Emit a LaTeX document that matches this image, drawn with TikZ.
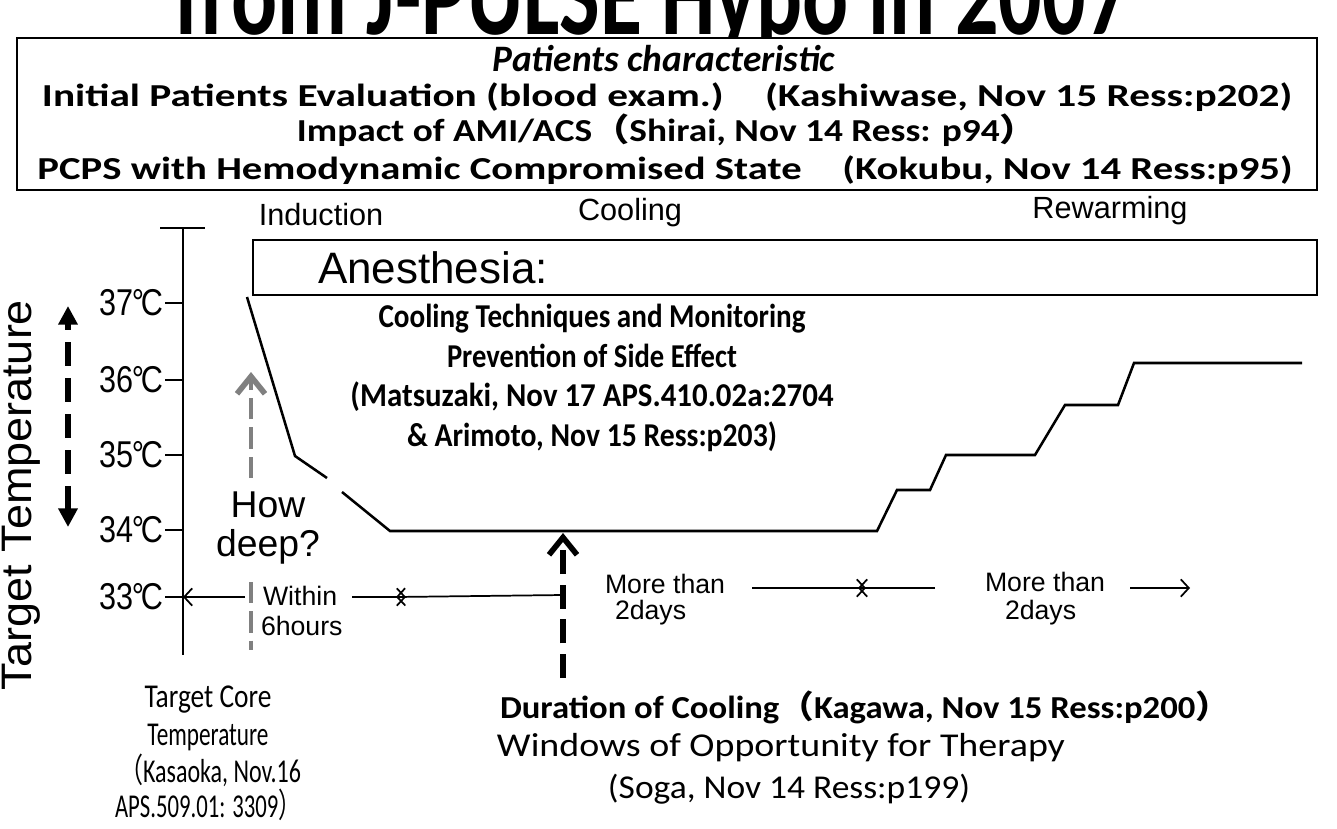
\documentclass[tikz,border=0pt]{standalone}
\usepackage{fontspec}
\usepackage{graphicx}
\setmainfont{Liberation Sans}
\newfontfamily\calfont{Carlito}
\newfontfamily\jpfont{Noto Sans CJK JP}
\usetikzlibrary{arrows.meta}
\newlength\px
\setlength\px{0.75pt}
\newcommand\fw[2]{\resizebox{#1\px}{\height}{#2}}
\newcommand\lp{\smash{\jpfont （}}
\newcommand\rp{\smash{\jpfont ）}}
\tikzset{
  txt/.style={inner sep=0pt, outer sep=0pt},
  frame/.style={line width=1.6pt},
  curveline/.style={line width=1.9pt, line join=miter},
  tickline/.style={line width=1.5pt},
  chev/.tip={Straight Barb[length=13pt,width=21pt,line width=4.2pt]},
  barb/.tip={Straight Barb[length=6pt,width=13pt,line width=1.3pt]},
  thinarrow/.style={line width=1.3pt,-barb},
  bigdash/.style={line width=4pt, dash pattern=on 18pt off 8pt},
  graydash/.style={line width=3.6pt, dash pattern=on 16pt off 6pt, draw=black!50},
  toptext/.style={txt, font=\calfont\bfseries\fontsize{24}{24}\selectfont},
  phase/.style={txt, font=\fontsize{23}{23}\selectfont},
  ticklab/.style={txt, anchor=east},
  small/.style={txt, anchor=west, font=\fontsize{20}{20}\selectfont},
  bottomtext/.style={txt, font=\calfont\bfseries\fontsize{24}{24}\selectfont},
  bottomreg/.style={txt, font=\calfont\fontsize{25}{25}\selectfont},
}
\begin{document}
\begin{tikzpicture}[x=0.75pt,y=-0.75pt]
\useasboundingbox (0,0) rectangle (1337,828);
\fill[white] (0,0) rectangle (1337,828);
% clipped title (only its lower part shows)
\begin{scope}
\clip (0,0) rectangle (1337,37);
\node[txt, anchor=base] (hdr) at (652,34) {\raisebox{0pt}[\height][0pt]{\fw{955}{\calfont\bfseries\fontsize{88}{88}\selectfont from J-PULSE Hypo in 2007}}};
\end{scope}
% top box
\draw[frame] (17,38) rectangle (1317,190);
\node[txt, font=\calfont\bfseries\itshape\fontsize{28}{28}\selectfont] (pc) at (664,59) {Patients characteristic};
\node[toptext] (l1) at (667,97) {\fw{1250}{Initial Patients Evaluation (blood exam.)\quad (Kashiwase, Nov 15 Ress:p202)}};
\node[toptext] (l2) at (667,133) {\fw{740}{Impact of AMI/ACS\lp Shirai, Nov 14 Ress: p94\rp}};
\node[toptext] (l3) at (665,170) {\fw{1255}{PCPS with Hemodynamic Compromised State\quad (Kokubu, Nov 14 Ress:p95)}};
% phase labels
\node[phase] (ind) at (321,215) {Induction};
\node[phase] (cool) at (630,213) {Cooling};
\node[phase] (rew) at (1110,211) {Rewarming};
% anesthesia box
\draw[frame] (253,240) rectangle (1317,295);
\node[txt, anchor=west, font=\fontsize{33}{33}\selectfont] (anes) at (318,268) {Anesthesia:};
% cooling block text
\node[txt, align=center, font=\calfont\bfseries\fontsize{25}{29.8}\selectfont] (ctext) at (592,378)
  {\fw{427}{Cooling Techniques and Monitoring}\\\fw{290}{Prevention of Side Effect}\\\fw{483}{(Matsuzaki, Nov 17 APS.410.02a:2704}\\\fw{370}{\& Arimoto, Nov 15 Ress:p203)}};
% axis
\coordinate (axtop) at (183,228);
\coordinate (axbot) at (183,655);
\coordinate (bar0) at (160,228);
\coordinate (bar1) at (205,228);
\draw[tickline] (axtop) -- (axbot);
\draw[tickline] (bar0) -- (bar1);
\foreach \t/\yy in {37/303,36/380,35/455,34/530,33/597}{
  \coordinate (tk\t) at (165,\yy);
  \coordinate (ax\t) at (183,\yy);
  \draw[tickline] (tk\t) -- (ax\t);
  \node[ticklab] (lab\t) at (163,\yy) {\fw{64}{\fontsize{28}{28}\selectfont \t\kern-1pt°\kern-3pt C}};
}
% target temperature
\node[txt, rotate=90] (tt) at (21,495) {\fw{390}{\fontsize{32}{32}\selectfont Target Temperature}};
\coordinate (tta) at (68,527);
\coordinate (ttb) at (68,306);
\draw[line width=5pt, dash pattern=on 18pt off 9pt, {Triangle[length=14pt,width=14pt]}-{Triangle[length=14pt,width=14pt]}] (tta) -- (ttb);
% cooling curve
\coordinate (c1) at (247,297);
\coordinate (c2) at (295,456);
\coordinate (c3) at (327,478);
\coordinate (c4) at (342,492);
\coordinate (c5) at (390,531);
\coordinate (c6) at (877,531);
\coordinate (c7) at (897,490);
\coordinate (c8) at (930,490);
\coordinate (c9) at (946,455);
\coordinate (c10) at (1035,455);
\coordinate (c11) at (1065,405);
\coordinate (c12) at (1118,405);
\coordinate (c13) at (1134,363);
\coordinate (c14) at (1302,363);
\draw[curveline] (c1) -- (c2) -- (c3);
\draw[curveline] (c4) -- (c5) -- (c6) -- (c7) -- (c8) -- (c9) -- (c10) -- (c11) -- (c12) -- (c13) -- (c14);
% how deep
\node[txt, font=\fontsize{28}{28}\selectfont] (how) at (268,505) {How};
\node[txt, font=\fontsize{28}{28}\selectfont] (deep) at (268,547) {deep?};
\coordinate (hd0) at (251,478);
\coordinate (hd1) at (251,372);
\draw[graydash, -chev] (hd0) -- (hd1);
\coordinate (hd2) at (251,582);
\coordinate (hd3) at (251,650);
\draw[graydash] (hd2) -- (hd3);
% 33 row
\node[small] (within) at (263,596) {Within};
\node[small] (sixh) at (261,626) {6hours};
\coordinate (r1) at (245,597);
\draw[thinarrow] (r1) -- (ax33);
\coordinate (r2) at (352,597);
\coordinate (x1) at (406,597);
\coordinate (x2) at (396,597);
\coordinate (r3) at (563,595);
\draw[thinarrow] (r2) -- (x1);
\draw[thinarrow] (r3) -- (x2);
% duration arrow
\coordinate (du0) at (563,678);
\coordinate (du1) at (563,533);
\draw[bigdash, -chev] (du0) -- (du1);
% more than
\node[small] (mt1) at (605,584) {More than};
\node[small] (dy1) at (615,613) {2days};
\node[small] (mt2) at (985,582) {More than};
\node[small] (dy2) at (1005,613) {2days};
\coordinate (m1) at (752,588);
\coordinate (m2) at (866,588);
\coordinate (m3) at (935,588);
\coordinate (m4) at (858,588);
\coordinate (m5) at (1130,588);
\coordinate (m6) at (1190,588);
\draw[thinarrow] (m1) -- (m2);
\draw[thinarrow] (m3) -- (m4);
\draw[thinarrow] (m5) -- (m6);
% bottom texts
\node[bottomreg] (tc1) at (208,700) {\fw{127}{Target Core}};
\node[bottomreg] (tc2) at (208,737) {\fw{121}{Temperature}};
\node[bottomreg] (tc3) at (210,773) {\fw{182}{\lp Kasaoka, Nov.16}};
\node[bottomreg] (tc4) at (208,807) {\fw{186}{APS.509.01: 3309\rp}};
\node[bottomtext] (dur) at (865,710) {\fw{730}{Duration of Cooling\lp Kagawa, Nov 15 Ress:p200\rp}};
\node[bottomreg] (win) at (781,748) {\fw{568}{Windows of Opportunity for Therapy}};
\node[bottomreg] (soga) at (789,789) {\fw{362}{(Soga, Nov 14 Ress:p199)}};
\end{tikzpicture}
\end{document}
